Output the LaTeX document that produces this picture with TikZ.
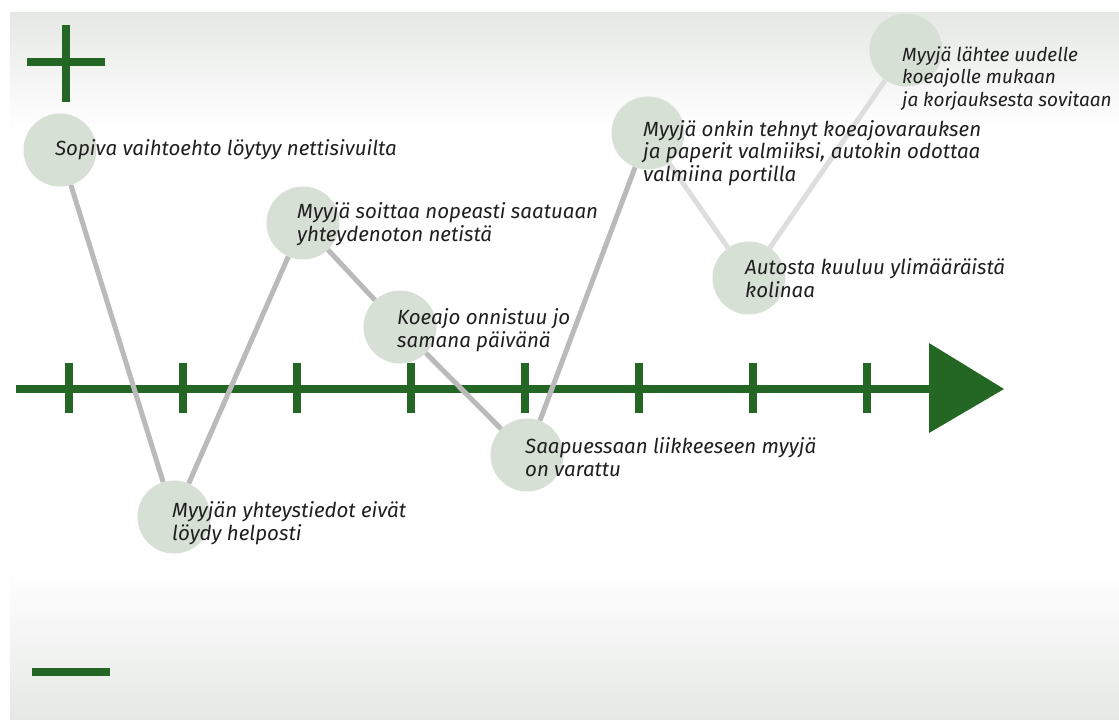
\documentclass[tikz,border=0pt]{standalone}
\usepackage{fontspec}
\setmainfont{Fira Sans}
\usetikzlibrary{positioning}
\definecolor{axisgreen}{RGB}{36,102,36}
\definecolor{dotfill}{RGB}{214,224,212}
\definecolor{linkgray}{RGB}{186,186,186}
\definecolor{linklight}{RGB}{222,222,222}
\definecolor{bandgray}{RGB}{229,232,229}
\begin{document}
\begin{tikzpicture}[x=1pt, y=-1pt,
    dot/.style={circle, fill=dotfill, minimum size=73pt, inner sep=0pt},
    lbl/.style={align=left, inner sep=0pt, text=black!88, anchor=base west,
      font=\fontsize{20.5}{22.5}\selectfont\itshape},
    link/.style={linkgray, line width=5pt},
    bar/.style={axisgreen, line width=8pt}]
  \useasboundingbox (0,0) rectangle (1119,720);
  \fill[white] (0,0) rectangle (1119,720);
  \shade[top color=bandgray, bottom color=white] (10,12) rectangle (1119,130);
  \shade[top color=white, bottom color=bandgray] (10,570) rectangle (1119,720);

  %plus and minus
  \draw[bar] (27,62) -- (105,62);
  \draw[bar] (66,25) -- (66,102);
  \draw[bar] (32,672) -- (110,672);

  %time axis
  \coordinate (start) at (16,389);
  \coordinate (tip) at (930,389);
  \draw[bar] (start) -- (tip);
  \fill[axisgreen] (929,343) -- (1004,389) -- (929,433) -- cycle;
  \foreach \i in {0,...,7}
    \draw[bar] ({69+114*\i},363) -- ({69+114*\i},413);

  \node[dot] (c1) at (60,150) {};
  \node[dot] (c2) at (174,517) {};
  \node[dot] (c3) at (303,223) {};
  \node[dot] (c4) at (400,327) {};
  \node[dot] (c5) at (527,455) {};
  \node[dot] (c6) at (648,133) {};
  \node[dot] (c7) at (749,278) {};
  \node[dot] (c8) at (906,50) {};

  \draw[link] (c1) -- (c2);
  \draw[link] (c2) -- (c3);
  \draw[link] (c3) -- (c4);
  \draw[link] (c4) -- (c5);
  \draw[link] (c5) -- (c6);
  \draw[link, linklight] (c6) -- (c7);
  \draw[link, linklight] (c7) -- (c8);

  %base = last line
  \node[lbl] (t1) at (55,155) {Sopiva vaihtoehto löytyy nettisivuilta};
  \node[lbl] (t2) at (172,540) {Myyjän yhteystiedot eivät\\löydy helposti};
  \node[lbl] (t3) at (297,241) {Myyjä soittaa nopeasti saatuaan\\yhteydenoton netistä};
  \node[lbl] (t4) at (397,347) {Koeajo onnistuu jo\\samana päivänä};
  \node[lbl] (t5) at (525,476) {Saapuessaan liikkeeseen myyjä\\on varattu};
  \node[lbl] (t6) at (643,181) {Myyjä onkin tehnyt koeajovarauksen\\ja paperit valmiiksi, autokin odottaa\\valmiina portilla};
  \node[lbl] (t7) at (745,297) {Autosta kuuluu ylimääräistä\\kolinaa};
  \node[lbl, font=\fontsize{19}{22.5}\selectfont\itshape] (t8) at (902,106) {Myyjä lähtee uudelle\\koeajolle mukaan\\ja korjauksesta sovitaan};
\end{tikzpicture}
\end{document}
